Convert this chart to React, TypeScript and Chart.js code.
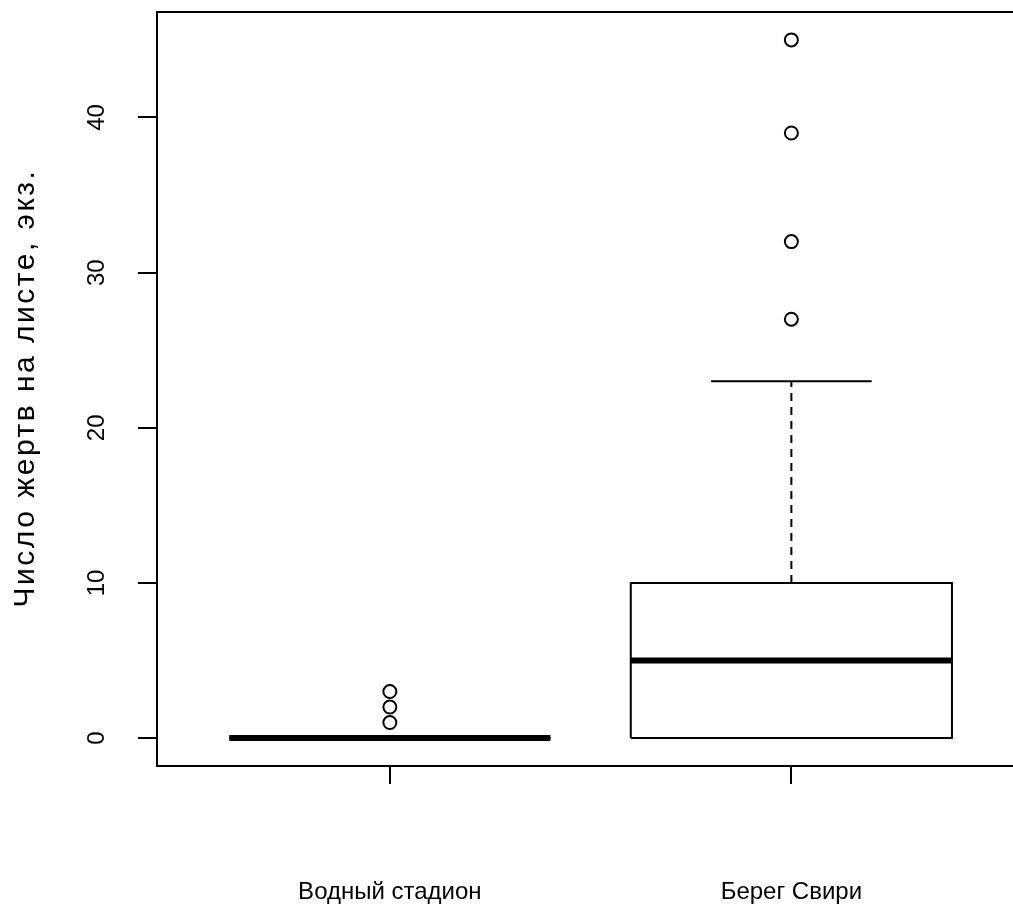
import React, { useEffect, useRef } from 'react';
import { Chart, registerables } from 'chart.js';

Chart.register(...registerables);

// ---- data ----
const categories = ['Водный стадион', 'Берег Свири'];
const positions = [1, 2];
const lowerQuartile = [0, 0];
const medians = [0, 5];
const upperQuartile = [0, 10];
const lowerWhisker = [0, 0];
const upperWhisker = [0, 23];
const outliersVodny = [1, 2, 3];
const outliersBereg = [27, 32, 39, 45];
const outlierGroups = [outliersVodny, outliersBereg];
const yTicks = [0, 10, 20, 30, 40];
const yTitle = 'Число жертв на листе, экз.';

// ---- style constants ----
const BOX_HALF = 0.4;
const STAPLE_HALF = 0.2;
const FONT = '"Liberation Sans", Arial, sans-serif';
const FONT_SIZE = 24;
const BLACK = '#000000';

function seg(x1: number, y1: number, x2: number, y2: number) {
  return [{ x: x1, y: y1 }, { x: x2, y: y2 }];
}

function lineDs(data: any[], width: number, dash: number[] = []) {
  return {
    type: 'scatter' as const,
    data,
    showLine: true,
    borderColor: BLACK,
    borderWidth: width,
    borderDash: dash,
    pointRadius: 0,
    pointHoverRadius: 0,
    fill: false,
    tension: 0,
    borderCapStyle: 'butt',
    borderJoinStyle: 'miter',
  };
}

function buildDatasets() {
  const ds: any[] = [];
  positions.forEach((p, i) => {
    ds.push(
      lineDs(
        [
          { x: p - BOX_HALF, y: lowerQuartile[i] },
          { x: p + BOX_HALF, y: lowerQuartile[i] },
          { x: p + BOX_HALF, y: upperQuartile[i] },
          { x: p - BOX_HALF, y: upperQuartile[i] },
          { x: p - BOX_HALF, y: lowerQuartile[i] },
        ],
        2
      )
    );
    if (upperWhisker[i] > upperQuartile[i])
      ds.push(lineDs(seg(p, upperQuartile[i], p, upperWhisker[i]), 2, [8, 6]));
    if (lowerWhisker[i] < lowerQuartile[i])
      ds.push(lineDs(seg(p, lowerWhisker[i], p, lowerQuartile[i]), 2, [8, 6]));
    ds.push(lineDs(seg(p - STAPLE_HALF, upperWhisker[i], p + STAPLE_HALF, upperWhisker[i]), 2));
    ds.push(lineDs(seg(p - STAPLE_HALF, lowerWhisker[i], p + STAPLE_HALF, lowerWhisker[i]), 2));
    ds.push(lineDs(seg(p - BOX_HALF, medians[i], p + BOX_HALF, medians[i]), 6));
    ds.push({
      type: 'scatter' as const,
      data: outlierGroups[i].map((v) => ({ x: p, y: v })),
      showLine: false,
      pointRadius: 6.5,
      pointHoverRadius: 6.5,
      pointBorderWidth: 2,
      borderColor: BLACK,
      backgroundColor: 'rgba(255,255,255,0)',
      pointStyle: 'circle',
    });
  });
  return ds;
}

const framePlugin = {
  id: 'frameAndLabels',
  afterDraw(chart: any) {
    const ctx = chart.ctx;
    const area = chart.chartArea;
    ctx.save();
    ctx.strokeStyle = BLACK;
    ctx.lineWidth = 2;
    ctx.beginPath();
    ctx.moveTo(area.left - 1, area.top);
    ctx.lineTo(area.right, area.top);
    ctx.stroke();
    const ys = chart.scales.y;
    ctx.fillStyle = BLACK;
    ctx.font = `${FONT_SIZE}px ${FONT}`;
    ctx.textAlign = 'center';
    ctx.textBaseline = 'middle';
    ys.ticks.forEach((t: any) => {
      const py = ys.getPixelForValue(t.value);
      ctx.save();
      ctx.translate(ys.right - 60, py);
      ctx.rotate(-Math.PI / 2);
      ctx.fillText(String(t.value), 0, 0);
      ctx.restore();
    });
    // y axis title (rotated)
    ctx.save();
    ctx.font = `30px ${FONT}`;
    (ctx as any).letterSpacing = '2.5px';
    ctx.translate(ys.left + 26, (area.top + area.bottom) / 2);
    ctx.rotate(-Math.PI / 2);
    ctx.fillText(yTitle, 1, 0);
    ctx.restore();
    ctx.restore();
  },
};

export default function App() {
  const ref = useRef<HTMLCanvasElement | null>(null);
  useEffect(() => {
    if (!ref.current) return;
    const chart = new Chart(ref.current, {
      type: 'scatter',
      data: { datasets: buildDatasets() },
      options: {
        animation: false,
        responsive: false,
        events: [],
        layout: { autoPadding: false, padding: { top: 12, right: 0, left: 0, bottom: 0 } },
        plugins: { legend: { display: false }, tooltip: { enabled: false } },
        scales: {
          x: {
            type: 'linear',
            min: 0.42,
            max: 2.552,
            afterBuildTicks: (s: any) => {
              s.ticks = positions.map((v) => ({ value: v }));
            },
            afterFit: (s: any) => {
              s.height = 152;
              s.paddingLeft = 0;
              s.paddingRight = 0;
            },
            ticks: {
              callback: (v: any) => categories[positions.indexOf(Number(v))] ?? '',
              color: BLACK,
              font: { family: FONT, size: FONT_SIZE },
              padding: 94,
              maxRotation: 0,
              minRotation: 0,
              autoSkip: false,
            },
            grid: {
              drawOnChartArea: false,
              drawTicks: true,
              tickLength: 18,
              color: BLACK,
              lineWidth: 2,
            },
            border: { display: true, color: BLACK, width: 2 },
          },
          y: {
            type: 'linear',
            min: -1.8,
            max: 46.8,
            afterBuildTicks: (s: any) => {
              s.ticks = yTicks.map((v) => ({ value: v }));
            },
            afterFit: (s: any) => {
              s.width = 157;
              s.paddingTop = 0;
              s.paddingBottom = 0;
            },
            ticks: { display: false },
            grid: {
              drawOnChartArea: false,
              drawTicks: true,
              tickLength: 19,
              color: BLACK,
              lineWidth: 2,
            },
            border: { display: true, color: BLACK, width: 2 },
          },
        },
      },
      plugins: [framePlugin],
    } as any);
    return () => chart.destroy();
  }, []);
  return (
    <div style={{ position: 'absolute', left: 0, top: 0, width: 1013, height: 918, background: '#fff' }}>
      <canvas ref={ref} width={1013} height={918} style={{ display: 'block' }} />
    </div>
  );
}
